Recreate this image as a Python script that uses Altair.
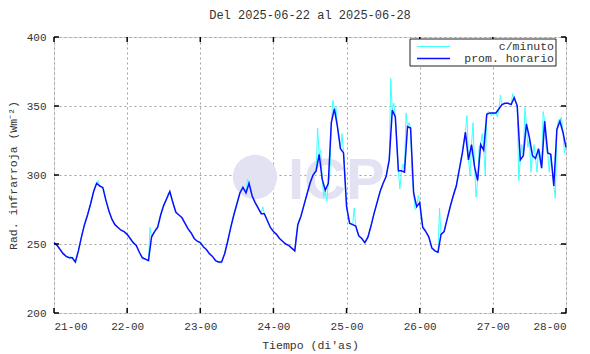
import altair as alt
import pandas as pd

title_text = "Del 2025-06-22 al 2025-06-28"
x_title = "Tiempo (di'as)"
y_title = "Rad. infrarroja (Wm⁻²)"
legend_labels = ["c/minuto", "prom. horario"]
series_colors = ["#40ffff", "#0a10ff"]
start_day = 21
x_ticks = [21, 22, 23, 24, 25, 26, 27, 28]
y_ticks = [200, 250, 300, 350, 400]

# hourly averages (prom. horario), one per hour from 21-00 to 28-00
hourly = [
    251, 249, 246, 243, 241, 240, 240, 237, 245, 255, 264, 271, 279, 288, 294, 292, 291, 282, 274, 268, 264, 262, 260, 259,
    257, 254, 251, 249, 244, 240, 239, 238, 255, 259, 262, 271, 278, 283, 288, 280, 273, 271, 269, 265, 261, 258, 254, 252,
    251, 248, 246, 243, 241, 238, 237, 237, 243, 252, 262, 271, 279, 287, 291, 287, 294, 285, 280, 276, 272, 272, 267, 262,
    259, 257, 254, 252, 250, 249, 247, 245, 264, 270, 278, 286, 294, 300, 303, 315, 297, 289, 294, 338, 348, 335, 319, 316,
    277, 265, 264, 263, 256, 254, 251, 255, 263, 272, 280, 288, 294, 299, 311, 347, 342, 303, 303, 302, 335, 334, 287, 277,
    280, 262, 259, 255, 247, 245, 244, 257, 259, 268, 277, 285, 292, 304, 316, 331, 311, 322, 306, 296, 322, 318, 344, 345,
    345, 345, 348, 351, 352, 352, 351, 356, 350, 311, 314, 337, 327, 314, 312, 319, 305, 339, 316, 315, 292, 333, 339, 331,
    320,
]

# minute data (c/minuto) read at the half hours between the hourly points
minute_half = [
    250, 248, 244, 242, 241, 241, 238, 240, 250, 260, 268, 275, 284, 292, 296, 291, 288, 278, 271, 266, 263, 261, 259, 258,
    256, 252, 250, 246, 242, 239, 238, 262, 258, 262, 266, 275, 281, 287, 285, 276, 272, 270, 267, 263, 259, 256, 253, 251,
    250, 247, 244, 242, 239, 237, 236, 240, 248, 257, 267, 275, 283, 290, 289, 297, 290, 282, 278, 274, 277, 270, 264, 261,
    258, 255, 253, 251, 249, 248, 246, 256, 268, 274, 282, 290, 298, 303, 334, 318, 284, 281, 300, 354, 350, 328, 330, 300,
    270, 264, 276, 259, 255, 252, 253, 259, 267, 276, 284, 291, 296, 306, 370, 352, 322, 290, 308, 345, 338, 300, 275, 285,
    268, 262, 257, 251, 246, 244, 276, 258, 264, 273, 281, 290, 300, 312, 325, 343, 300, 338, 284, 320, 330, 300, 346, 343,
    344, 342, 358, 352, 352, 351, 359, 353, 296, 322, 349, 320, 302, 322, 302, 316, 346, 320, 302, 305, 283, 340, 342, 316,
]

t_hourly = [start_day + i / 24 for i in range(len(hourly))]
hourly_df = pd.DataFrame({"t": t_hourly, "v": hourly})

cyan_t, cyan_v = [], []
for i, v in enumerate(minute_half):
    cyan_t += [start_day + i / 24, start_day + (i + 0.5) / 24]
    cyan_v += [hourly[i], v]
cyan_t.append(t_hourly[-1])
cyan_v.append(hourly[-1])
minute_df = pd.DataFrame({"t": cyan_t, "v": cyan_v})

W, H = 512, 276
FONT = "Liberation Mono"

xscale = alt.Scale(domain=[x_ticks[0], x_ticks[-1]], nice=False, zero=False)
yscale = alt.Scale(domain=[y_ticks[0], y_ticks[-1]], nice=False, zero=False)

xaxis = alt.Axis(values=x_ticks, labelExpr="datum.value + '-00'", title=x_title,
                 grid=True, gridDash=[2, 3], gridColor="#a0a0a0", ticks=False, domain=False,
                 labelPadding=7, titlePadding=8, labelFont=FONT, titleFont=FONT,
                 labelFontSize=11, titleFontSize=11.5, titleFontWeight="normal",
                 labelColor="#333", titleColor="#333")
yaxis = alt.Axis(values=y_ticks, title=y_title, grid=True, gridDash=[2, 3], gridColor="#a0a0a0",
                 ticks=False, domain=False, labelPadding=8, titlePadding=8, labelFont=FONT,
                 titleFont=FONT, labelFontSize=11, titleFontSize=11.5, titleFontWeight="normal",
                 labelColor="#333", titleColor="#333")

one = pd.DataFrame({"k": [0]})

logo_circle = alt.Chart(one).mark_point(filled=True, shape="circle", color="#e2e2f3", opacity=1).encode(
    x=alt.value(201), y=alt.value(140), size=alt.value(1960))
logo_text = alt.Chart(one).mark_text(text="ICP", font="Liberation Sans", fontWeight="bold",
                                     fontSize=58, color="#e2e2f3", align="left", baseline="alphabetic").encode(
    x=alt.value(234), y=alt.value(162))

minute_line = alt.Chart(minute_df).mark_line(color=series_colors[0], strokeWidth=1).encode(
    x=alt.X("t:Q", scale=xscale, axis=xaxis),
    y=alt.Y("v:Q", scale=yscale, axis=yaxis),
)
hourly_line = alt.Chart(hourly_df).mark_line(color=series_colors[1], strokeWidth=1.5).encode(
    x=alt.X("t:Q", scale=xscale),
    y=alt.Y("v:Q", scale=yscale),
)

xt = pd.DataFrame({"t": x_ticks})
yt = pd.DataFrame({"v": y_ticks})
tick_bottom = alt.Chart(xt).mark_rule(color="black", strokeWidth=1.5).encode(
    x=alt.X("t:Q", scale=xscale), y=alt.value(H - 5), y2=alt.value(H))
tick_top = alt.Chart(xt).mark_rule(color="black", strokeWidth=1.5).encode(
    x=alt.X("t:Q", scale=xscale), y=alt.value(0), y2=alt.value(5))
tick_left = alt.Chart(yt).mark_rule(color="black", strokeWidth=1.5).encode(
    y=alt.Y("v:Q", scale=yscale), x=alt.value(0), x2=alt.value(5))
tick_right = alt.Chart(yt).mark_rule(color="black", strokeWidth=1.5).encode(
    y=alt.Y("v:Q", scale=yscale), x=alt.value(W - 5), x2=alt.value(W))

legend_box = alt.Chart(one).mark_rect(fill="white", stroke="#222", strokeWidth=1).encode(
    x=alt.value(356), x2=alt.value(502), y=alt.value(2), y2=alt.value(29))
leg_line1 = alt.Chart(one).mark_rule(color=series_colors[0], strokeWidth=1).encode(
    x=alt.value(363), x2=alt.value(396), y=alt.value(9.5))
leg_line2 = alt.Chart(one).mark_rule(color=series_colors[1], strokeWidth=1.5).encode(
    x=alt.value(363), x2=alt.value(396), y=alt.value(21.5))
leg_text1 = alt.Chart(one).mark_text(text=legend_labels[0], font=FONT, fontSize=11.5, color="#333",
                                     align="right", baseline="middle").encode(x=alt.value(500), y=alt.value(9.5))
leg_text2 = alt.Chart(one).mark_text(text=legend_labels[1], font=FONT, fontSize=11.5, color="#333",
                                     align="right", baseline="middle").encode(x=alt.value(500), y=alt.value(21.5))

chart = alt.layer(
    logo_circle, logo_text, minute_line, hourly_line,
    tick_bottom, tick_top, tick_left, tick_right,
    legend_box, leg_line1, leg_line2, leg_text1, leg_text2,
).properties(
    width=W, height=H,
    title=alt.TitleParams(title_text, font=FONT, fontSize=12, fontWeight="normal", color="#333",
                          anchor="middle", offset=9),
    autosize=alt.AutoSizeParams(type="none"),
    padding={"left": 46, "top": 29, "right": 16, "bottom": 40},
).configure_view(stroke="black", strokeWidth=2).configure(background="white")

chart.save("out.html", embed_options={"renderer": "svg", "actions": False})
